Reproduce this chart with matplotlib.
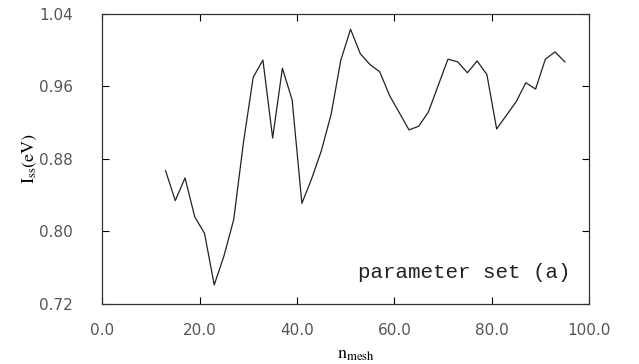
import numpy as np
import matplotlib
matplotlib.use("Agg")
import matplotlib.pyplot as plt

plt.rcParams["mathtext.fontset"] = "stix"

# values
n_mesh = [13, 15, 17, 19, 21, 23, 25, 27, 29, 31, 33, 35, 37, 39, 41, 43, 45, 47, 49, 51, 53,
          55, 57, 59, 61, 63, 65, 67, 69, 71, 73, 75, 77, 79, 81, 83, 85, 87, 89, 91, 93, 95]
i_ss = [0.867, 0.834, 0.859, 0.816, 0.798, 0.741, 0.773, 0.813, 0.898, 0.970, 0.989,
        0.903, 0.980, 0.945, 0.831, 0.858, 0.889, 0.929, 0.989, 1.023, 0.996,
        0.984, 0.976, 0.950, 0.931, 0.912, 0.916, 0.932, 0.961, 0.990, 0.987,
        0.975, 0.988, 0.973, 0.913, 0.928, 0.943, 0.964, 0.957, 0.990, 0.998, 0.987]
xticks = [0, 20, 40, 60, 80, 100]
yticks = [0.72, 0.80, 0.88, 0.96, 1.04]

fig = plt.figure(figsize=(6.39, 3.64), dpi=100)
ax = fig.add_axes([0.160, 0.165, 0.762, 0.797])

ax.plot(n_mesh, i_ss, color="#222222", lw=0.9)

ax.set_xlim(0, 100)
ax.set_ylim(0.72, 1.04)
ax.set_xticks(xticks)
ax.set_xticklabels(["%.1f" % v for v in xticks])
ax.set_yticks(yticks)
ax.set_yticklabels(["%.2f" % v for v in yticks])
ax.tick_params(direction="in", length=5, width=0.8, top=True, right=True,
               labelsize=11, labelcolor="#555555")
ax.tick_params(axis="y", pad=21)
ax.tick_params(axis="x", pad=14)
for s in ax.spines.values():
    s.set_linewidth(0.9)
    s.set_color("#333333")

ax.set_xlabel(r"$\mathrm{n_{mesh}}$", fontsize=13)
ax.set_ylabel(r"$\mathrm{I_{ss}(eV)}$", fontsize=13)
ax.xaxis.set_label_coords(0.52, -0.142)
ax.yaxis.set_label_coords(-0.13, 0.5)

ax.text(0.525, 0.11, "parameter set (a)", transform=ax.transAxes, fontsize=15,
        family="Liberation Mono", color="#222222", va="center")

fig.savefig("out.png", dpi=100)
